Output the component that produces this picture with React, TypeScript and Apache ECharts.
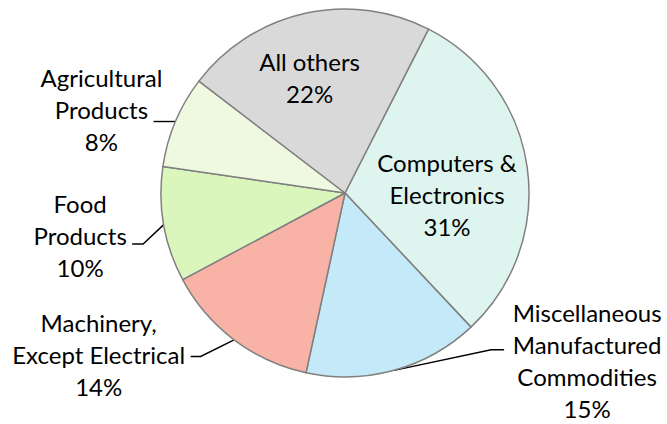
import React, { useEffect, useRef } from "react";
import * as echarts from "echarts";

// ---- data ----
const categories = [
  "Computers &\nElectronics",
  "Miscellaneous\nManufactured\nCommodities",
  "Machinery,\nExcept Electrical",
  "Food\nProducts",
  "Agricultural\nProducts",
  "All others",
];
const values = [30.5, 15.4, 13.8, 10.1, 8.1, 22.1];
const insideLabels = [true, false, false, false, false, true];

// ---- styles ----
const colors = ["#DEF5EF", "#C4E9F8", "#F8B3A6", "#DAF6BC", "#EEF9E0", "#D9D9D9"];
// label placement offsets (px): inside -> shift of label centre; outside -> relative to line anchor on pie edge
const placement: any[] = [
  { label: [8, 15] },
  { bend: [97, -20.6], end: [110, -20.6], label: [193, -9.6] },
  { bend: [-33.4, 16.7], end: [-43.4, 16.7], label: [-135.4, 14.7] },
  { bend: [-20.6, 19.3], end: [-31.6, 19.3], label: [-83.6, 11.3] },
  { bend: [-5, 0], end: [-22, 0], label: [-74, -12] },
  { label: [-14.4, -23.3] },
];

const FONT = "Lato, 'Open Sans', sans-serif";

export default function App() {
  const ref = useRef<HTMLDivElement>(null);
  useEffect(() => {
    const chart = echarts.init(ref.current!, undefined, { renderer: "svg" });
    const data = categories.map((name, i) => ({
      name,
      value: values[i],
      itemStyle: { color: colors[i] },
      label: { position: insideLabels[i] ? "inside" : "outside" },
      labelLine: { show: !insideLabels[i] },
    }));
    chart.setOption({
      animation: false,
      backgroundColor: "#ffffff",
      series: [
        {
          type: "pie",
          center: [345, 193],
          radius: 184,
          startAngle: 63,
          clockwise: true,
          percentPrecision: 0,
          avoidLabelOverlap: false,
          itemStyle: { borderColor: "#808080", borderWidth: 1.5 },
          label: {
            show: true,
            formatter: "{b}\n{d}%",
            fontFamily: FONT,
            fontSize: 24,
            lineHeight: 32,
            color: "#000000",
            align: "center",
          },
          labelLine: {
            show: true,
            smooth: false,
            length: 10,
            length2: 10,
            lineStyle: { color: "#000000", width: 1.4 },
          },
          emphasis: { disabled: true },
          labelLayout: (params: any) => {
            const p = placement[params.dataIndex];
            const r = params.labelRect;
            if (insideLabels[params.dataIndex]) {
              return {
                x: r.x + r.width / 2 + p.label[0],
                y: r.y + r.height / 2 + p.label[1],
                align: "center",
                verticalAlign: "middle",
              };
            }
            const pts = params.labelLinePoints;
            if (!pts) return {};
            const a = pts[0];
            return {
              x: a[0] + p.label[0],
              y: a[1] + p.label[1],
              align: "center",
              verticalAlign: "middle",
              labelLinePoints: [
                [a[0], a[1]],
                [a[0] + p.bend[0], a[1] + p.bend[1]],
                [a[0] + p.end[0], a[1] + p.end[1]],
              ],
            };
          },
          data,
        },
      ],
    });
    return () => chart.dispose();
  }, []);
  return (
    <div
      ref={ref}
      style={{ position: "absolute", left: 0, top: 0, width: 667, height: 424 }}
    />
  );
}
